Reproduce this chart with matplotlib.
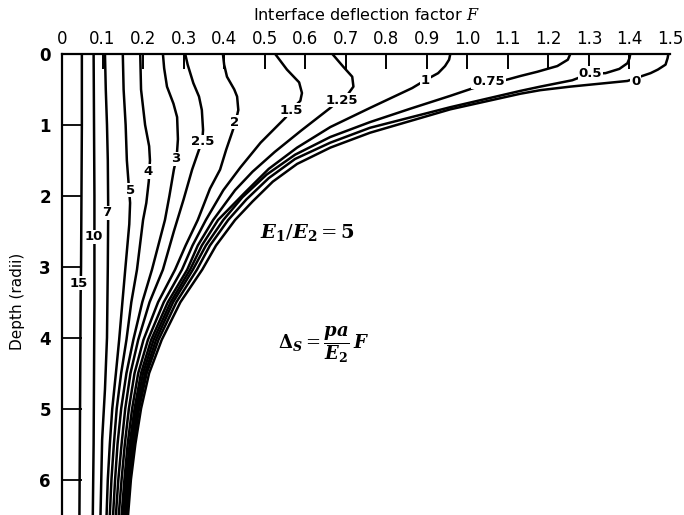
# Fator de deflexão na interface de um sistema de duas camadas (E1/E2 = 5)
# em função da profundidade, para vários afastamentos r/a.

import numpy as np
import matplotlib.pyplot as plt

plt.rcParams['mathtext.fontset'] = 'dejavuserif'

#===============================================================================
# Curvas: F (fator de deflexão) e z (profundidade em raios).
F_15 = [0.049, 0.049, 0.048, 0.047, 0.046, 0.045, 0.044, 0.043]
z_15 = [0.0, 1.0, 2.0, 3.0, 3.4, 4.5, 5.5, 6.5]

F_10 = [0.078, 0.079, 0.080, 0.080, 0.080, 0.079, 0.078, 0.076]
z_10 = [0.0, 1.0, 2.0, 2.6, 3.5, 4.5, 5.5, 6.5]

F_7 = [0.106, 0.108, 0.111, 0.113, 0.114, 0.113, 0.111, 0.106, 0.099, 0.095]
z_7 = [0.0, 0.5, 1.0, 1.5, 2.2, 3.0, 4.0, 4.73, 5.44, 6.5]

F_5 = [0.150, 0.152, 0.157, 0.160, 0.164, 0.168, 0.166, 0.156, 0.149, 0.141, 0.133,
       0.124, 0.118, 0.113, 0.110]
z_5 = [0.0, 0.5, 1.0, 1.5, 1.8, 2.1, 2.4, 3.04, 3.5, 4.03, 4.5, 5.0, 5.5, 6.0, 6.5]

F_4 = [0.193, 0.195, 0.205, 0.215, 0.217, 0.214, 0.208, 0.200, 0.185, 0.171, 0.159,
       0.146, 0.135, 0.128, 0.122, 0.118]
z_4 = [0.0, 0.5, 1.0, 1.3, 1.5, 1.8, 2.1, 2.34, 3.04, 3.5, 4.03, 4.5, 5.0, 5.5, 6.0, 6.5]

F_3 = [0.249, 0.252, 0.259, 0.275, 0.284, 0.286, 0.283, 0.276, 0.265, 0.254, 0.222,
       0.198, 0.176, 0.159, 0.146, 0.137, 0.131, 0.126]
z_3 = [0.0, 0.2, 0.46, 0.7, 0.89, 1.2, 1.45, 1.63, 2.0, 2.34, 3.04, 3.5, 4.03, 4.5,
       5.0, 5.5, 6.0, 6.5]

F_25 = [0.304, 0.310, 0.324, 0.338, 0.345, 0.348, 0.346, 0.338, 0.321, 0.300, 0.276,
        0.249, 0.216, 0.188, 0.169, 0.156, 0.147, 0.139, 0.133]
z_25 = [0.0, 0.15, 0.41, 0.6, 0.79, 1.07, 1.24, 1.35, 1.63, 2.05, 2.5, 3.04, 3.5, 4.03,
        4.5, 5.0, 5.5, 6.0, 6.5]

F_2 = [0.397, 0.400, 0.407, 0.425, 0.432, 0.435, 0.428, 0.420, 0.405, 0.390, 0.365,
       0.335, 0.305, 0.279, 0.237, 0.201, 0.179, 0.165, 0.155, 0.147, 0.140]
z_2 = [0.0, 0.15, 0.32, 0.5, 0.6, 0.79, 0.96, 1.1, 1.35, 1.63, 1.9, 2.34, 2.7, 3.04,
       3.5, 4.03, 4.5, 5.0, 5.5, 6.0, 6.5]

F_1_5 = [0.526, 0.555, 0.585, 0.592, 0.588, 0.565, 0.551, 0.490, 0.440, 0.398, 0.355,
         0.322, 0.296, 0.251, 0.212, 0.188, 0.173, 0.162, 0.154, 0.147]
z_1_5 = [0.0, 0.22, 0.4, 0.55, 0.66, 0.79, 0.9, 1.25, 1.6, 1.92, 2.34, 2.7, 3.04, 3.5,
         4.03, 4.5, 5.0, 5.5, 6.0, 6.5]

F_1_25 = [0.667, 0.694, 0.716, 0.719, 0.705, 0.684, 0.662, 0.590, 0.525, 0.470, 0.427,
          0.373, 0.335, 0.309, 0.261, 0.220, 0.195, 0.179, 0.167, 0.158, 0.151]
z_1_25 = [0.0, 0.18, 0.32, 0.46, 0.57, 0.65, 0.76, 1.08, 1.38, 1.66, 1.92, 2.34, 2.7,
          3.04, 3.5, 4.03, 4.5, 5.0, 5.5, 6.0, 6.5]

F_1 = [0.958, 0.955, 0.945, 0.928, 0.896, 0.864, 0.760, 0.662, 0.580, 0.510, 0.452,
       0.385, 0.345, 0.316, 0.268, 0.226, 0.200, 0.183, 0.171, 0.161, 0.154]
z_1 = [0.0, 0.08, 0.17, 0.27, 0.37, 0.48, 0.76, 1.03, 1.32, 1.62, 1.95, 2.34, 2.7,
       3.04, 3.5, 4.03, 4.5, 5.0, 5.5, 6.0, 6.5]

F_0_75 = [1.254, 1.248, 1.222, 1.173, 1.131, 1.099, 1.052, 1.015, 0.958, 0.860, 0.760,
          0.662, 0.575, 0.505, 0.445, 0.398, 0.355, 0.323, 0.274, 0.232, 0.205, 0.187,
          0.174, 0.164, 0.157]
z_0_75 = [0.0, 0.08, 0.17, 0.25, 0.31, 0.36, 0.42, 0.48, 0.59, 0.77, 0.96, 1.17, 1.42,
          1.70, 2.02, 2.34, 2.7, 3.04, 3.5, 4.03, 4.5, 5.0, 5.5, 6.0, 6.5]

F_0_5 = [1.402, 1.400, 1.395, 1.375, 1.341, 1.300, 1.259, 1.180, 1.131, 0.958, 0.760,
         0.662, 0.575, 0.510, 0.455, 0.410, 0.365, 0.333, 0.282, 0.238, 0.209, 0.190,
         0.177, 0.167, 0.160]
z_0_5 = [0.0, 0.06, 0.13, 0.21, 0.27, 0.28, 0.37, 0.46, 0.52, 0.75, 1.04, 1.25, 1.48,
         1.75, 2.05, 2.34, 2.7, 3.04, 3.5, 4.03, 4.5, 5.0, 5.5, 6.0, 6.5]

F_0 = [1.496, 1.494, 1.489, 1.470, 1.452, 1.395, 1.254, 1.180, 1.131, 0.958, 0.760,
       0.662, 0.580, 0.520, 0.470, 0.427, 0.380, 0.346, 0.292, 0.246, 0.215, 0.195,
       0.181, 0.170, 0.163]
z_0 = [0.0, 0.06, 0.15, 0.22, 0.27, 0.38, 0.46, 0.51, 0.56, 0.78, 1.11, 1.32, 1.55,
       1.80, 2.08, 2.34, 2.7, 3.04, 3.5, 4.03, 4.5, 5.0, 5.5, 6.0, 6.5]

curvas = [(F_15, z_15), (F_10, z_10), (F_7, z_7), (F_5, z_5), (F_4, z_4), (F_3, z_3),
          (F_25, z_25), (F_2, z_2), (F_1_5, z_1_5), (F_1_25, z_1_25), (F_1, z_1),
          (F_0_75, z_0_75), (F_0_5, z_0_5), (F_0, z_0)]

# Rótulos das curvas (afastamento r/a) e onde ficam.
rotulos = ["15", "10", "7", "5", "4", "3", "2.5", "2", "1.5", "1.25", "1", "0.75", "0.5", "0"]
rot_F = [0.042, 0.078, 0.111, 0.168, 0.212, 0.281, 0.348, 0.425, 0.565, 0.691, 0.896,
         1.052, 1.304, 1.415]
rot_z = [3.23, 2.58, 2.24, 1.92, 1.66, 1.48, 1.24, 0.96, 0.79, 0.65, 0.38, 0.39, 0.27, 0.39]

# Eixos.
xticks = np.arange(0, 1.51, 0.1)
xlabels = ["0", "0.1", "0.2", "0.3", "0.4", "0.5", "0.6", "0.7", "0.8", "0.9",
           "1.0", "1.1", "1.2", "1.3", "1.4", "1.5"]
yticks = [0, 1, 2, 3, 4, 5, 6]

#===============================================================================
fig = plt.figure(figsize=(6.84, 5.15), dpi=100)
ax = fig.add_axes([62/684, 0.0, 608/684, 461/515])

for F, z in curvas:
    ax.plot(F, z, color="black", lw=1.8, solid_capstyle="round", solid_joinstyle="round")

for t, f, z in zip(rotulos, rot_F, rot_z):
    ax.text(f, z, t, fontsize=9.5, fontweight="bold", ha="center", va="center",
            zorder=5, bbox=dict(facecolor="white", edgecolor="none", pad=0.6))

ax.set_xlim(0, 1.5)
ax.set_ylim(6.5, 0)

ax.xaxis.tick_top()
ax.set_xticks(xticks)
ax.set_xticklabels(xlabels)
ax.set_yticks(yticks)
ax.set_yticklabels([str(v) for v in yticks], fontweight="bold")
ax.tick_params(axis="x", direction="in", length=11, width=1.4, pad=4, labelsize=12)
ax.tick_params(axis="y", direction="in", length=14.5, width=1.3, pad=8, labelsize=12)
ax.xaxis.get_major_ticks()[0].tick2line.set_visible(False)
ax.xaxis.get_major_ticks()[-1].tick2line.set_visible(False)
ax.yaxis.get_major_ticks()[0].tick1line.set_visible(False)

for lado in ["right", "bottom"]:
    ax.spines[lado].set_visible(False)
for lado in ["left", "top"]:
    ax.spines[lado].set_linewidth(1.6)

fig.text(366/684, 1 - 15/515, r"Interface deflection factor $F$", fontsize=11.5,
         ha="center", va="center")
fig.text(18/684, 1 - 301/515, "Depth (radii)", fontsize=11, rotation=90,
         ha="center", va="center")

ax.text(0.605, 2.52, r"$\mathbfit{E}_\mathbf{1}/\mathbfit{E}_\mathbf{2} = \mathbf{5}$",
        fontsize=14, ha="center", va="center")
ax.text(0.645, 4.1, r"$\mathbf{\Delta}_\mathbfit{S} = \dfrac{\mathbfit{pa}}{\mathbfit{E}_\mathbf{2}}\,\mathbfit{F}$",
        fontsize=13, ha="center", va="center")

plt.savefig("out.png", dpi=100)
